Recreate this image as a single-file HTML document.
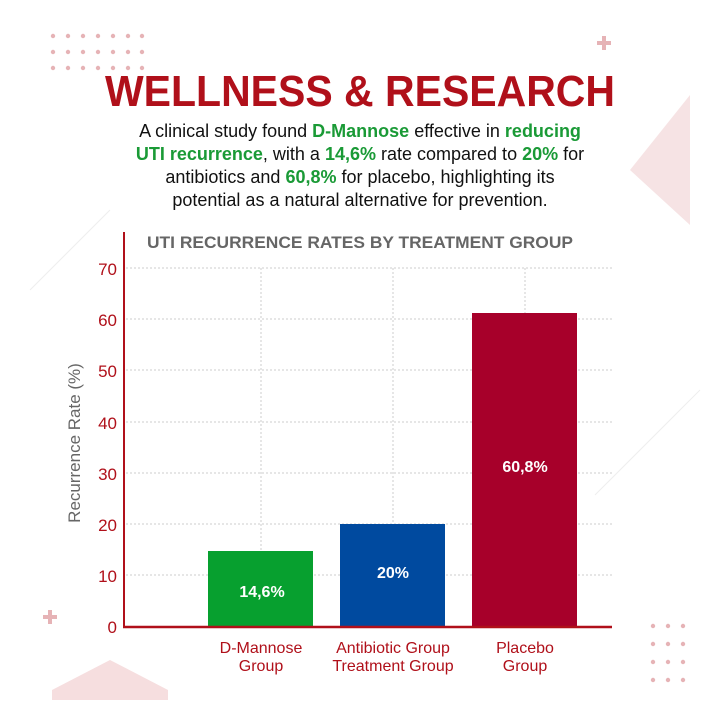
<!DOCTYPE html>
<html><head><meta charset="utf-8"><style>
body{margin:0;width:720px;height:720px;background:#fff;overflow:hidden;font-family:"Liberation Sans",sans-serif;position:relative}
.h{position:absolute;left:0;width:720px;text-align:center}
</style></head><body>
<svg width="720" height="720" style="position:absolute;left:0;top:0">
<g fill="#e6b3b6">
<g id="r"><circle cx="53" cy="36" r="2.2"/><circle cx="68" cy="36" r="2.2"/><circle cx="83" cy="36" r="2.2"/><circle cx="98" cy="36" r="2.2"/><circle cx="113" cy="36" r="2.2"/><circle cx="128" cy="36" r="2.2"/><circle cx="142" cy="36" r="2.2"/></g>
<use href="#r" y="16"/><use href="#r" y="32"/>
<rect x="597" y="41" width="14" height="4"/><rect x="602" y="36" width="4" height="14"/>
<rect x="43" y="615" width="14" height="4"/><rect x="48" y="610" width="4" height="14"/>
<g id="d"><circle cx="653" cy="626" r="2.2"/><circle cx="668" cy="626" r="2.2"/><circle cx="683" cy="626" r="2.2"/></g>
<use href="#d" y="18"/><use href="#d" y="36"/><use href="#d" y="54"/>
</g>
<polygon points="690,95 630,170 690,225" fill="#f6e3e4"/>
<polygon points="52,690 110,660 168,690 168,700 52,700" fill="#f6dedf"/>
<g stroke="#eee" stroke-width="1"><line x1="30" y1="290" x2="110" y2="210"/><line x1="595" y1="495" x2="700" y2="390"/></g>
<g stroke="#ccc" stroke-dasharray="2,2" stroke-width="1">
<line x1="126" y1="268" x2="612" y2="268"/><line x1="126" y1="319" x2="612" y2="319"/><line x1="126" y1="370" x2="612" y2="370"/><line x1="126" y1="422" x2="612" y2="422"/><line x1="126" y1="473" x2="612" y2="473"/><line x1="126" y1="524" x2="612" y2="524"/><line x1="126" y1="575" x2="612" y2="575"/>
<line x1="261" y1="268" x2="261" y2="627"/><line x1="393" y1="268" x2="393" y2="627"/><line x1="525" y1="268" x2="525" y2="627"/>
</g>
<rect x="208" y="551" width="105" height="76" fill="#07a02f"/>
<rect x="340" y="524" width="105" height="103" fill="#004a9f"/>
<rect x="472" y="313" width="105" height="314" fill="#a7002a"/>
<line x1="124" y1="232" x2="124" y2="628" stroke="#b0101a" stroke-width="2"/>
<line x1="123" y1="627" x2="612" y2="627" stroke="#b0101a" stroke-width="2.5"/>
<g fill="#b0101a" font-size="17" text-anchor="end">
<text x="117" y="275">70</text><text x="117" y="326">60</text><text x="117" y="377">50</text><text x="117" y="429">40</text><text x="117" y="480">30</text><text x="117" y="531">20</text><text x="117" y="582">10</text><text x="117" y="633">0</text>
</g>
<text transform="translate(80,443) rotate(-90)" text-anchor="middle" font-size="17" fill="#666">Recurrence Rate (%)</text>
<text x="360" y="248" text-anchor="middle" font-size="16.5" font-weight="bold" fill="#666" textLength="426" lengthAdjust="spacingAndGlyphs">UTI RECURRENCE RATES BY TREATMENT GROUP</text>
<g fill="#fff" font-weight="bold" font-size="16" text-anchor="middle">
<text x="262" y="597">14,6%</text><text x="393" y="578">20%</text><text x="525" y="472">60,8%</text>
</g>
<g fill="#b0101a" font-size="16" text-anchor="middle">
<text x="261" y="653">D-Mannose</text><text x="261" y="671">Group</text>
<text x="393" y="653">Antibiotic Group</text><text x="393" y="671">Treatment Group</text>
<text x="525" y="653">Placebo</text><text x="525" y="671">Group</text>
</g>
<text x="360" y="106" text-anchor="middle" font-size="44" font-weight="bold" fill="#b0101a" textLength="510" lengthAdjust="spacingAndGlyphs">WELLNESS &amp; RESEARCH</text>
</svg>
<div class="h" style="top:120px;font-size:18px;line-height:23px;color:#111">A clinical study found <b style="color:#1a9a36">D-Mannose</b> effective in <b style="color:#1a9a36">reducing</b><br><b style="color:#1a9a36">UTI recurrence</b>, with a <b style="color:#1a9a36">14,6%</b> rate compared to <b style="color:#1a9a36">20%</b> for<br>antibiotics and <b style="color:#1a9a36">60,8%</b> for placebo, highlighting its<br>potential as a natural alternative for prevention.</div>
</body></html>
